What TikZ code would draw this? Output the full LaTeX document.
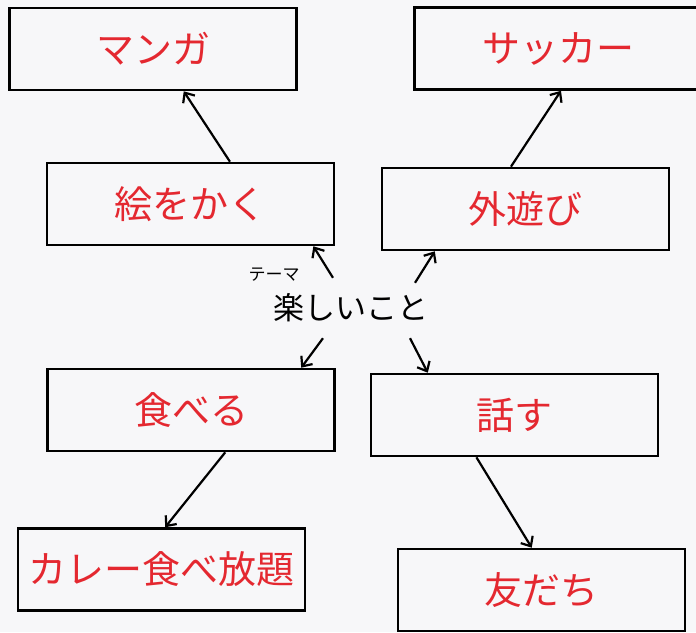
\documentclass[tikz,border=0pt]{standalone}
\usepackage{fontspec}
\setmainfont{Noto Sans CJK JP}
\usepackage{tikz}
\usetikzlibrary{arrows.meta}
\definecolor{penred}{RGB}{228,40,48}
\definecolor{paper}{RGB}{247,247,249}
\tikzset{
  idea/.style={draw, line width=2.6pt, minimum width=287pt, minimum height=82pt,
    inner sep=0pt, text=penred, font=\fontsize{38}{40}\selectfont},
  link/.style={line width=2.2pt, -{Straight Barb[length=8pt,width=14pt]}}
}

\begin{document}
\begin{tikzpicture}[x=1pt,y=-1pt]
    % paper
    \fill[paper] (0,0) rectangle (696,632);
    \useasboundingbox (0,0) rectangle (696,632);
    % theme in the middle
    \node[font=\fontsize{31}{33}\selectfont, inner sep=0pt, minimum height=60pt] (theme) at (351,308) {楽しいこと};
    \node[font=\fontsize{17}{18}\selectfont, inner sep=0pt] (tlabel) at (274,275) {テーマ};
    % first ring of boxes
    \node[idea] (e) at (190.5,204) {絵をかく};
    \node[idea] (soto) at (525.5,209) {外遊び};
    \node[idea] (taberu) at (191,410) {食べる};
    \node[idea] (hanasu) at (514.5,415) {話す};
    % outer boxes
    \node[idea] (manga) at (153,49) {マンガ};
    \node[idea] (soccer) at (558,48.5) {サッカー};
    \node[idea] (curry) at (161.5,569.5) {カレー食べ放題};
    \node[idea] (tomo) at (541.5,590) {友だち};
    % arrows from the theme
    \draw[link] ([xshift=-18pt]theme.north) -- (e.-19);
    \draw[link] ([xshift=64pt,yshift=-5pt]theme.north) -- (soto.205);
    \draw[link] ([xshift=-28pt]theme.south) -- (taberu.21);
    \draw[link] ([xshift=59pt]theme.south) -- (hanasu.154);
    % arrows to the outer boxes
    \draw[link] (e.47) -- (manga.-54);
    \draw[link] (soto.109) -- (soccer.-86);
    \draw[link] (taberu.-51) -- (curry.85);
    \draw[link] (hanasu.228) -- (tomo.103);
\end{tikzpicture}
\end{document}
